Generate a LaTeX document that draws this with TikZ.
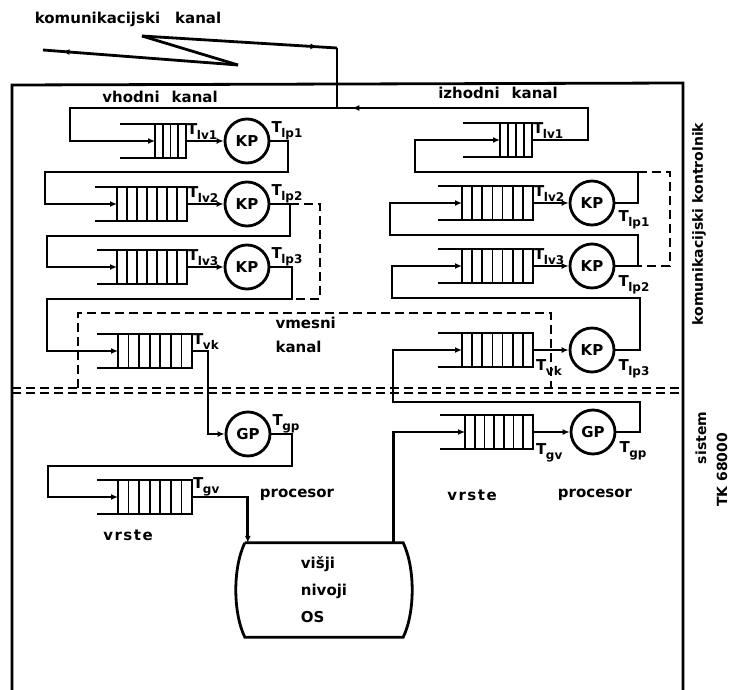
\documentclass[tikz,border=0pt]{standalone}
\usepackage{fontspec}
\setmainfont{DejaVu Sans}
\usetikzlibrary{arrows.meta,calc,decorations.markings}

% T with a lowered index
\newcommand{\tsub}[2]{#1\kern-0.5pt\raisebox{-5pt}{\fontsize{12}{12}\selectfont #2}}

\begin{document}
\begin{tikzpicture}[
  x=1pt, y=-1pt,
  >={Latex[length=7pt,width=6pt]},
  every node/.style={font=\fontsize{15}{19}\bfseries},
  wire/.style={line width=2.8pt},
  line/.style={wire, ->},
  bypass/.style={line width=2.2pt, dash pattern=on 9pt off 5pt},
  proc/.style={draw, circle, line width=2.8pt, minimum size=44pt, inner sep=0pt},
  fifo/.style 2 args={draw, line width=2.8pt, minimum width=#1, minimum height=34pt,
    inner sep=0pt, outer sep=0pt, anchor=east,
    path picture={\foreach \k [evaluate=\k as \f using \k/(#2+1)] in {1,...,#2}
      \draw[line width=1.8pt] ($(path picture bounding box.north west)!\f!(path picture bounding box.north east)$)
        -- ($(path picture bounding box.south west)!\f!(path picture bounding box.south east)$);}},
  tag/.style={inner sep=1pt, font=\fontsize{15}{15}\bfseries},
  flow/.style={postaction={decorate}, decoration={markings,
    mark=at position #1 with {\arrow{Latex[length=7pt,width=6pt]}}}},
  osbox/.style={minimum width=158pt, minimum height=94pt, align=left, font=\fontsize{15}{27}\bfseries}
]
\useasboundingbox (0,0) rectangle (736,690);

% frame of the controller and the system
\draw[wire] (12,690) -- (12,85) -- (683,83) -- (683,690);
\draw[bypass, line width=1.9pt] (12,388) -- (683,388);
\draw[bypass, line width=1.9pt] (12,393) -- (683,393);

% communication channel
\node (title) at (128,19) {komunikacijski\hspace{1em}kanal};
\coordinate (c0) at (43,50);
\coordinate (c1) at (238,65);
\coordinate (c2) at (142,36);
\coordinate (c3) at (337,48);
\coordinate (j) at (337,108);
\draw[wire, flow=0.9] (c1) -- (c0);
\draw[wire] (c1) -- (c2);
\draw[wire, flow=0.9] (c2) -- (c3);
\draw[wire] (c3) -- (j);

\node (vhod) at (160,97) {vhodni\hspace{0.8em}kanal};
\node (izhod) at (498,93) {izhodni\hspace{0.8em}kanal};

% input side
\node[fifo={31}{3}] (qin1) at (186,141) {};
\node[fifo={70}{6}] (qin2) at (187,204) {};
\node[fifo={70}{6}] (qin3) at (187,267) {};
\node[fifo={74}{6}] (qvk1) at (192,351) {};
\node[fifo={74}{6}] (qgv1) at (192,497) {};
\node[proc] (kpin1) at (247,141) {KP};
\node[proc] (kpin2) at (247,204) {KP};
\node[proc] (kpin3) at (247,267) {KP};
\node[proc] (gp1) at (248,434) {GP};

% output side
\node[fifo={32}{3}] (qout1) at (532,140) {};
\node[fifo={71}{6}] (qout2) at (533,203) {};
\node[fifo={71}{6}] (qout3) at (533,266) {};
\node[fifo={71}{6}] (qvk2) at (533,350) {};
\node[fifo={68}{6}] (qgv2) at (533,432) {};
\node[proc] (kpo1) at (592,203) {KP};
\node[proc] (kpo2) at (592,266) {KP};
\node[proc] (kpo3) at (592,350) {KP};
\node[proc] (gp2) at (593,432) {GP};

\foreach \q/\l in {qin1/35, qin2/22, qin3/20, qvk1/21, qgv1/21,
                   qout1/37, qout2/24, qout3/24, qvk2/24, qgv2/25}
  \draw[wire] (\q.north west) -- ++(-\l,0) (\q.south west) -- ++(-\l,0);

\node[osbox] (os) at (324,590) {višji\\nivoji\\OS};
\draw[wire] (os.north west) -- (os.north east)
  .. controls +(12,25) and +(12,-25) .. (os.south east) -- (os.south west)
  .. controls +(-12,-25) and +(-12,25) .. (os.north west);

% input channel and queues
\draw[line] (j) -- (70,108) |- (qin1.west);
\draw[line] (qin1.east) -- (kpin1.west);
\draw[line] (kpin1.east) -- (288,141) -- (288,172) -- (45,172) |- (qin2.west);
\draw[line] (qin2.east) -- (kpin2.west);
\draw[line] (kpin2.east) -- (290,204) coordinate (b1) -- (290,236) -- (47,236) |- (qin3.west);
\draw[line] (qin3.east) -- (kpin3.west);
\draw[line] (kpin3.east) -- (292,267) -- (292,299) coordinate (b2) -- (47,299) |- (qvk1.west);
\draw[bypass] (b1) -- (320,204) -- (320,299) -- (b2);
\draw[line] (qvk1.east) -- (208,351) |- (gp1.west);
\draw[line] (gp1.east) -- (292,434) -- (292,466) -- (48,466) |- (qgv1.west);
\draw[line] (qgv1.east) -| ([xshift=3pt]os.north west);

% output channel and queues
\draw[line] ([xshift=-10pt]os.north east) |- (qgv2.west);
\draw[line] (qgv2.east) -- (gp2.west);
\draw[line] (gp2.east) -- (640,432) -- (640,402) -- (393,402) |- (qvk2.west);
\draw[line] (qvk2.east) -- (kpo3.west);
\draw[line] (kpo3.east) -- (640,350) -- (640,298) -- (392,298) |- (qout3.west);
\draw[line] (qout3.east) -- (kpo2.west);
\draw[line] (kpo2.east) -- (638,266) coordinate (b4) -- (638,235) -- (390,235) |- (qout2.west);
\draw[line] (qout2.east) -- (kpo1.west);
\draw[line] (kpo1.east) -- (638,203) -- (638,172) coordinate (b3) -- (415,172) |- (qout1.west);
\draw[bypass] (b3) -- (670,172) -- (670,266) -- (b4);
\draw[wire, flow=0.955] (qout1.east) -- (588,140) -- (588,108) -- (j);

% intermediate channel
\draw[bypass] (78,388) -- (78,313) -- (551,313) -- (551,388);
\node[anchor=west, align=left, font=\fontsize{15}{24}\bfseries] (vmes) at (272,335) {vmesni\\kanal};

% times
\node[tag, anchor=south west] (tlv1) at (qin1.east) {\tsub{T}{lv1}};
\node[tag, anchor=south west] (tlp1) at (kpin1.east) {\tsub{T}{lp1}};
\node[tag, anchor=south west] (tlv2) at (qin2.east) {\tsub{T}{lv2}};
\node[tag, anchor=south west] (tlp2) at (kpin2.east) {\tsub{T}{lp2}};
\node[tag, anchor=south west] (tlv3) at (qin3.east) {\tsub{T}{lv3}};
\node[tag, anchor=south west] (tlp3) at (kpin3.east) {\tsub{T}{lp3}};
\node[tag, anchor=south west] (tvk1) at (qvk1.east) {\tsub{T}{vk}};
\node[tag, anchor=south west] (tgp1) at (gp1.east) {\tsub{T}{gp}};
\node[tag, anchor=south west] (tgv1) at (qgv1.east) {\tsub{T}{gv}};
\node[tag, anchor=south west] (tlv1r) at (qout1.east) {\tsub{T}{lv1}};
\node[tag, anchor=south west] (tlv2r) at (qout2.east) {\tsub{T}{lv2}};
\node[tag, anchor=south west] (tlv3r) at (qout3.east) {\tsub{T}{lv3}};
\node[tag, anchor=north west] (tlp1r) at ([shift={(2,6)}]kpo1.east) {\tsub{T}{lp1}};
\node[tag, anchor=north west] (tlp2r) at ([shift={(2,8)}]kpo2.east) {\tsub{T}{lp2}};
\node[tag, anchor=north west] (tlp3r) at ([shift={(2,8)}]kpo3.east) {\tsub{T}{lp3}};
\node[tag, anchor=north west] (tvk2) at ([shift={(2,8)}]qvk2.east) {\tsub{T}{vk}};
\node[tag, anchor=north west] (tgv2) at ([shift={(2,10)}]qgv2.east) {\tsub{T}{gv}};
\node[tag, anchor=north west] (tgp2) at ([shift={(2,8)}]gp2.east) {\tsub{T}{gp}};

% names
\node (vrste1) at (128,535) {\addfontfeature{LetterSpace=10}vrste};
\node (proc1) at (297,495) {procesor};
\node (vrste2) at (472,495) {\addfontfeature{LetterSpace=10}vrste};
\node (proc2) at (595,495) {procesor};
\node[rotate=90, font=\fontsize{14}{18}\bfseries] (kontr) at (699,224) {komunikacijski kontrolnik};
\node[rotate=90, font=\fontsize{14}{16}\bfseries] (sist) at (701,438) {sistem};
\node[rotate=90, font=\fontsize{14}{16}\bfseries] (tk) at (722,470) {TK 68000};

\end{tikzpicture}
\end{document}
